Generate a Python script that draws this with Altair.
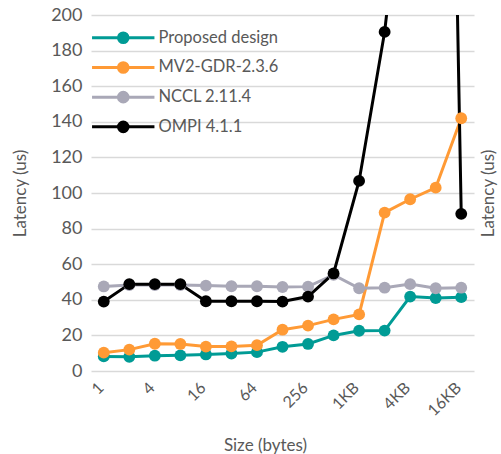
import altair as alt
import pandas as pd

# Message sizes (x axis categories)
sizes = ["1", "2", "4", "8", "16", "32", "64", "128", "256", "512",
         "1KB", "2KB", "4KB", "8KB", "16KB"]
tick_labels = ["1", "4", "16", "64", "256", "1KB", "4KB", "16KB"]

# Latency (us) per library
series_names = ["Proposed design", "MV2-GDR-2.3.6", "NCCL 2.11.4", "OMPI 4.1.1"]
proposed = [8.2, 8.0, 8.6, 8.8, 9.3, 9.8, 10.6, 13.6, 15.2, 20.0, 22.6, 22.7, 41.8, 41.0, 41.5]
mv2 = [10.3, 12.0, 15.3, 15.2, 13.7, 13.8, 14.5, 23.2, 25.5, 29.0, 31.8, 89.0, 96.5, 103.0, 142.0]
nccl = [47.5, 48.3, 48.3, 48.3, 48.0, 47.6, 47.6, 47.2, 47.4, 54.0, 46.5, 46.8, 48.8, 46.5, 46.8]
ompi = [39.0, 48.8, 48.8, 48.8, 39.2, 39.2, 39.2, 39.0, 41.8, 54.8, 106.8, 190.5, 317.0, 850.0, 88.3]
colors = ["#009B95", "#FF9A35", "#A9A8B7", "#000000"]

rows = []
for name, vals in zip(series_names, [proposed, mv2, nccl, ompi]):
    for s, v in zip(sizes, vals):
        rows.append({"size": s, "series": name, "latency": v})
df = pd.DataFrame(rows)

FONT = "Lato"
TEXT = "#595959"

# legend symbol: a short line with a dot in the middle
LEGEND_SYMBOL = ("M-7.8,0H7.8"
                 "M-1.2,0A1.2,1.2 0 1,0 1.2,0A1.2,1.2 0 1,0 -1.2,0Z")

legend = alt.Legend(
    title=None, orient="none", legendX=24, legendY=14.5,
    symbolType=LEGEND_SYMBOL, symbolSize=64, symbolStrokeWidth=3,
    labelFont=FONT, labelFontSize=16.5, labelColor=TEXT,
    labelOffset=27, rowPadding=6.7,
)

x_enc = alt.X(
    "size:O",
    sort=sizes,
    scale=alt.Scale(type="point", padding=0.5),
    axis=alt.Axis(
        values=tick_labels, labelAngle=-45, labelAlign="right", labelBaseline="middle",
        labelFont=FONT, labelFontSize=16, labelColor=TEXT, labelPadding=14, labelOffset=-3,
        ticks=False, domain=False, grid=False,
        title="Size (bytes)", titleFont=FONT, titleFontSize=17, titleFontWeight="normal",
        titleColor=TEXT, titleX=174, titleY=74, titleBaseline="middle",
    ),
)
y_scale = alt.Scale(domain=[0, 200], nice=False, zero=True)

color_scale = alt.Scale(domain=series_names, range=colors)

lines = alt.Chart(df).mark_line(strokeWidth=3, clip=True).encode(
    x=x_enc,
    y=alt.Y(
        "latency:Q",
        scale=y_scale,
        axis=alt.Axis(
            values=list(range(0, 201, 20)), orient="left",
            labelFont=FONT, labelFontSize=18, labelColor=TEXT, labelPadding=9,
            ticks=False, domain=False, grid=True, gridColor="#D9D9D9", gridWidth=1.5,
            title="Latency (us)", titleFont=FONT, titleFontSize=17, titleFontWeight="normal",
            titleColor=TEXT, titleAngle=270, titleX=-71, titleY=178,
            titleAlign="center", titleBaseline="middle",
        ),
    ),
    color=alt.Color("series:N", scale=color_scale, legend=legend),
)

points = alt.Chart(df).mark_point(
    filled=True, shape="circle", size=140, opacity=1, clip=True
).encode(
    x=x_enc,
    y=alt.Y(
        "latency:Q",
        scale=y_scale,
        axis=alt.Axis(
            orient="right", labels=False, ticks=False, domain=False, grid=False,
            title="Latency (us)", titleFont=FONT, titleFontSize=17, titleFontWeight="normal",
            titleColor=TEXT, titleAngle=270, titleX=14, titleY=178,
            titleAlign="center", titleBaseline="middle",
        ),
    ),
    color=alt.Color("series:N", scale=color_scale, legend=legend),
)

chart = alt.layer(lines, points).resolve_scale(y="independent").properties(
    width=383, height=356,
    autosize=alt.AutoSizeParams(type="none"),
    padding={"left": 91, "top": 15, "right": 27, "bottom": 83},
    background="white",
).configure_view(stroke=None)

chart.save("out.html", embed_options={"renderer": "svg", "actions": False})
